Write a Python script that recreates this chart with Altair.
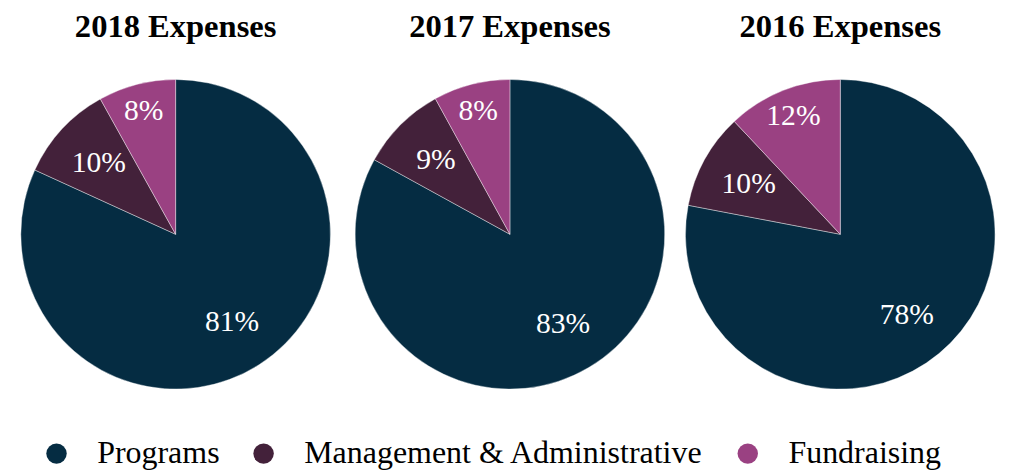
import altair as alt
import pandas as pd

years = ["2018", "2017", "2016"]
categories = ["Programs", "Management & Administrative", "Fundraising"]
values_2018 = [81, 10, 8]
values_2017 = [83, 9, 8]
values_2016 = [78, 10, 12]
colors = ["#052c42", "#43213a", "#9a4182"]

rows = []
for yr, vals in zip(years, [values_2018, values_2017, values_2016]):
    for i, (c, v) in enumerate(zip(categories, vals)):
        rows.append({"year": yr, "category": c, "value": v, "idx": i, "label": f"{v}%"})
df = pd.DataFrame(rows)

FONT = "Liberation Serif, 'Times New Roman', Times, serif"
TWO_PI = 6.283185307
RADIUS = 157

color = alt.Color(
    "category:N",
    scale=alt.Scale(domain=categories, range=colors),
    legend=alt.Legend(
        title=None,
        orient="bottom",
        direction="horizontal",
        offset=23,
        symbolType="circle",
        symbolSize=430,
        symbolStrokeWidth=0,
        labelFont=FONT,
        labelFontSize=32.4,
        labelColor="#000000",
        labelLimit=0,
        labelOffset=25,
        columnPadding=28,
        padding=25,
    ),
)

theta_scale = alt.Scale(domain=[0, 1], range=[0, TWO_PI])


def panel(yr, w):
    base = (
        alt.Chart(df)
        .transform_filter(alt.datum.year == yr)
        .transform_window(cum="sum(value)", sort=[alt.SortField("idx")])
        .transform_joinaggregate(total="sum(value)")
        .transform_calculate(
            start="(datum.cum - datum.value) / datum.total",
            end="datum.cum / datum.total",
            mid="(datum.cum - datum.value / 2) / datum.total",
        )
    )
    arcs = base.mark_arc(outerRadius=RADIUS, stroke="#ffffff", strokeWidth=0.4).encode(
        theta=alt.Theta("start:Q", scale=theta_scale),
        theta2="end:Q",
        color=color,
    )
    inner = base.transform_filter(alt.datum.category != "Fundraising").mark_text(
        radius=106, font=FONT, fontSize=30, color="#ffffff"
    ).encode(theta=alt.Theta("mid:Q", scale=theta_scale), text="label:N")
    outer = base.transform_filter(alt.datum.category == "Fundraising").mark_text(
        radius=129, font=FONT, fontSize=30, color="#ffffff"
    ).encode(theta=alt.Theta("mid:Q", scale=theta_scale), text="label:N")
    return alt.layer(arcs, inner, outer).properties(
        width=w,
        height=2 * RADIUS,
        title=alt.TitleParams(
            f"{yr} Expenses",
            font=FONT,
            fontSize=33,
            fontWeight="bold",
            color="#000000",
            baseline="alphabetic",
            offset=9,
        ),
    )


panel_widths = [324, 314, 314]

chart = (
    alt.hconcat(*[panel(y, w) for y, w in zip(years, panel_widths)], spacing=19)
    .properties(padding={"left": 8, "top": 0, "right": 5, "bottom": 5})
    .configure_view(stroke=None)
)

chart.save("out.html", embed_options={"renderer": "svg", "actions": False})
